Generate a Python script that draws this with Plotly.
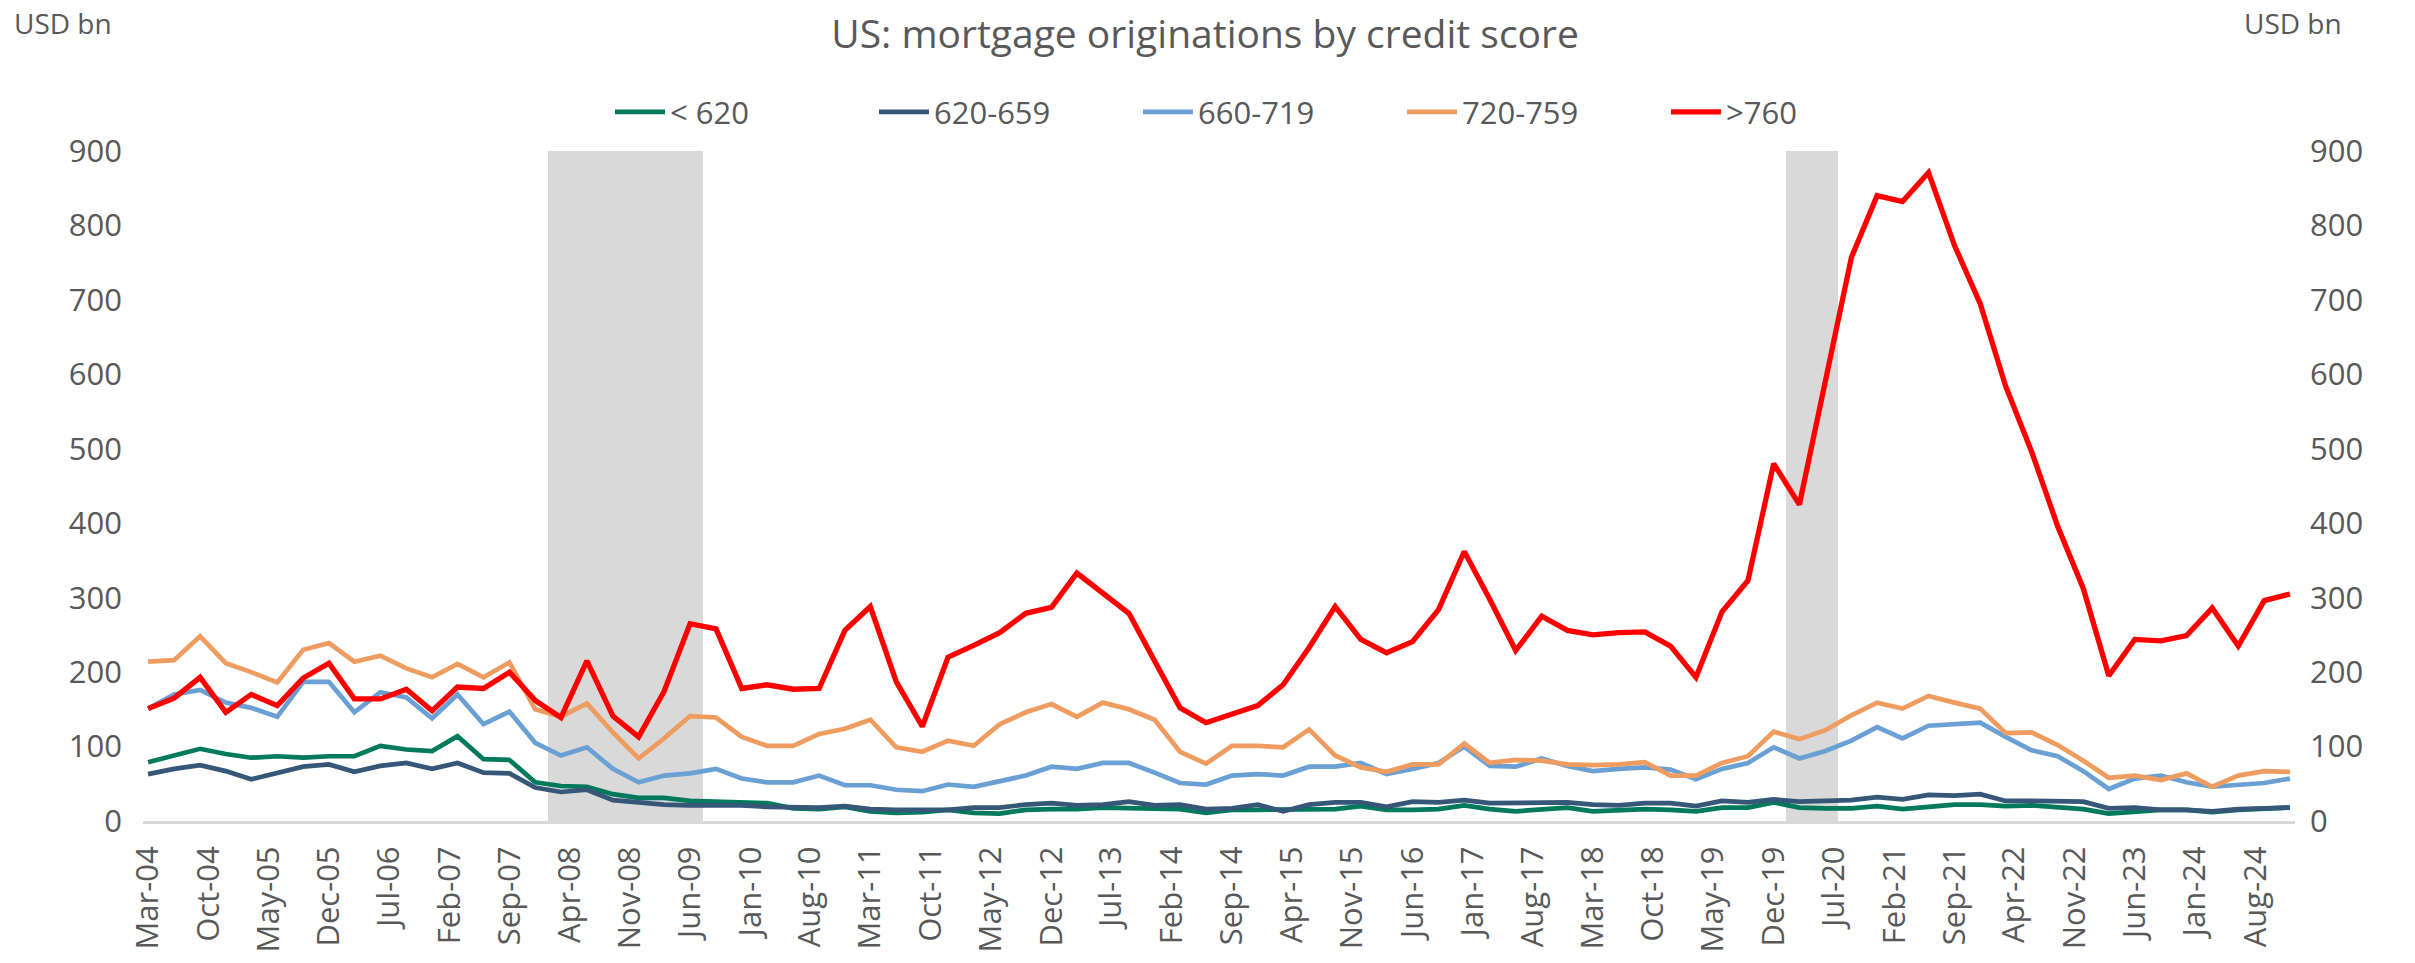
import pandas as pd
import plotly.graph_objects as go

# ---------------- data ----------------
dates = pd.date_range("2004-03-01", periods=84, freq="3MS")

series_names = ["< 620", "620-659", "660-719", "720-759", ">760"]

s_lt620 = [79, 88, 97, 90, 85, 87, 85, 87, 87, 101, 96, 94, 114, 83, 82, 52, 47, 46, 36, 31, 31, 27, 26, 24, 24, 17,
           16, 19, 13, 11, 12, 15, 11, 10, 15, 16, 16, 18, 17, 16, 16, 11, 15, 15, 15, 16, 16, 20, 15, 15, 16, 21, 16, 13, 16, 18, 13,
           15, 16, 15, 13, 18, 18, 25, 18, 17, 17, 20, 16, 19, 22, 22, 20, 21, 19, 16, 10, 13, 15, 15, 12, 15, 16, 18]

s_620_659 = [63, 70, 75, 67, 56, 65, 73, 76, 66, 74, 78, 70, 78, 65, 64, 45, 39, 42, 28, 25, 22, 21, 21, 21, 19, 19,
             18, 20, 16, 15, 15, 15, 18, 18, 22, 24, 21, 22, 26, 21, 22, 16, 17, 22, 13, 22, 25, 25, 19, 26, 25, 28, 24, 24, 25, 25, 22,
             21, 24, 24, 20, 27, 25, 29, 26, 27, 28, 32, 29, 35, 34, 36, 27, 27, 27, 26, 17, 18, 15, 15, 13, 16, 17, 18]

s_660_719 = [151, 170, 176, 159, 152, 140, 187, 187, 146, 173, 166, 138, 170, 130, 147, 105, 88, 99, 70, 52, 61, 64, 70, 57, 52, 52,
             61, 48, 48, 42, 40, 49, 46, 54, 61, 73, 70, 78, 78, 65, 51, 49, 61, 63, 61, 73, 73, 78, 63, 70, 78, 100, 74, 73, 84, 74, 67,
             70, 72, 69, 56, 70, 78, 99, 84, 94, 108, 126, 111, 128, 130, 132, 113, 95, 87, 67, 43, 57, 61, 52, 46, 48, 51, 57]

s_720_759 = [214, 216, 248, 212, 200, 186, 230, 239, 214, 222, 205, 193, 211, 193, 213, 150, 140, 158, 119, 84, 111, 141, 139, 113, 101, 101,
             117, 124, 136, 99, 93, 108, 101, 130, 146, 157, 140, 159, 150, 136, 93, 77, 101, 101, 99, 123, 88, 72, 66, 76, 76, 104, 78, 82, 81, 76, 75,
             76, 79, 61, 61, 78, 87, 120, 110, 122, 142, 159, 151, 168, 159, 151, 118, 119, 102, 81, 58, 61, 55, 64, 46, 61, 67, 66]

s_gt760 = [151, 165, 193, 146, 170, 155, 192, 212, 164, 164, 177, 148, 180, 178, 200, 162, 139, 215, 141, 113, 174, 265, 258, 178, 183, 177,
           178, 256, 288, 187, 127, 220, 236, 253, 279, 287, 333, 305, 279, 215, 152, 132, 143, 155, 183, 233, 288, 244, 226, 241, 284, 362, 298, 229, 275, 256, 250,
           253, 254, 235, 193, 281, 323, 480, 425, 595, 757, 840, 832, 871, 773, 695, 584, 496, 396, 312, 195, 244, 242, 249, 286, 235, 296, 305]

# recession quarters (NBER), shaded across the full axis height
recession_quarters = ["2008-03-01", "2008-06-01", "2008-09-01", "2008-12-01", "2009-03-01", "2009-06-01",
                      "2020-03-01", "2020-06-01"]
y_max = 900

# ---------------- styling ----------------
colors = ["#00795C", "#365778", "#6AA0D3", "#EE9C60", "#FF0000"]
widths = [4.7, 4.7, 4.7, 4.7, 5.3]
FONT = "Open Sans"
GREY = "#595959"

fig = go.Figure()

rec_set = set(pd.to_datetime(recession_quarters))
rec_vals = [y_max if d in rec_set else None for d in dates]
fig.add_trace(go.Bar(
    x=dates, y=rec_vals, yaxis="y",
    marker=dict(color="#D9D9D9", line=dict(width=0)),
    width=92 * 24 * 3600 * 1000,
    showlegend=False, hoverinfo="skip",
))

all_series = [s_lt620, s_620_659, s_660_719, s_720_759, s_gt760]
for name, vals, c, w in zip(series_names, all_series, colors, widths):
    fig.add_trace(go.Scatter(
        x=dates, y=vals, mode="lines", name=name, yaxis="y2",
        line=dict(color=c, width=w),
    ))

pad = pd.Timedelta(days=18)
tickfont = dict(family=FONT, size=31, color=GREY)

fig.update_layout(
    width=2415, height=963,
    margin=dict(l=143, r=120, t=151, b=142),
    paper_bgcolor="white", plot_bgcolor="white",
    font=dict(family=FONT, color=GREY),
    bargap=0,
    showlegend=True,
    title=dict(text="US: mortgage originations by credit score", x=0.499, xanchor="center",
               y=1 - 34 / 963, yanchor="middle", font=dict(family=FONT, size=39, color=GREY)),
    legend=dict(orientation="h", x=0.217, xanchor="left", y=1.058, yanchor="middle",
                font=dict(family=FONT, size=31, color=GREY),
                entrywidth=199, entrywidthmode="pixels", itemwidth=50,
                bgcolor="rgba(0,0,0,0)", traceorder="normal"),
    xaxis=dict(type="date", range=[dates[0] - pad, dates[-1] + pad],
               tick0="2004-03-01", dtick="M7", tickformat="%b-%y", tickangle=-90,
               showgrid=False, zeroline=False, showline=True, linecolor="#D9D9D9", linewidth=3,
               ticks="", tickfont=tickfont, ticklabelstandoff=10, layer="below traces"),
    yaxis=dict(range=[0, y_max], dtick=100, showgrid=False, zeroline=False, showline=False,
               ticks="", tickfont=tickfont, ticklabelstandoff=20),
    yaxis2=dict(range=[0, y_max], dtick=100, overlaying="y", side="right", showgrid=False,
                zeroline=False, showline=False, ticks="", tickfont=tickfont, ticklabelstandoff=14),
    annotations=[
        dict(text="USD bn", xref="paper", yref="paper", x=-0.061, y=1.191, xanchor="left", yanchor="middle",
             showarrow=False, font=dict(family=FONT, size=28, color=GREY)),
        dict(text="USD bn", xref="paper", yref="paper", x=1.0228, y=1.191, xanchor="right", yanchor="middle",
             showarrow=False, font=dict(family=FONT, size=28, color=GREY)),
    ],
)

fig.write_html("out.html", config={"displayModeBar": False},
               post_script="document.body.style.margin='0';document.body.style.overflow='hidden';")
